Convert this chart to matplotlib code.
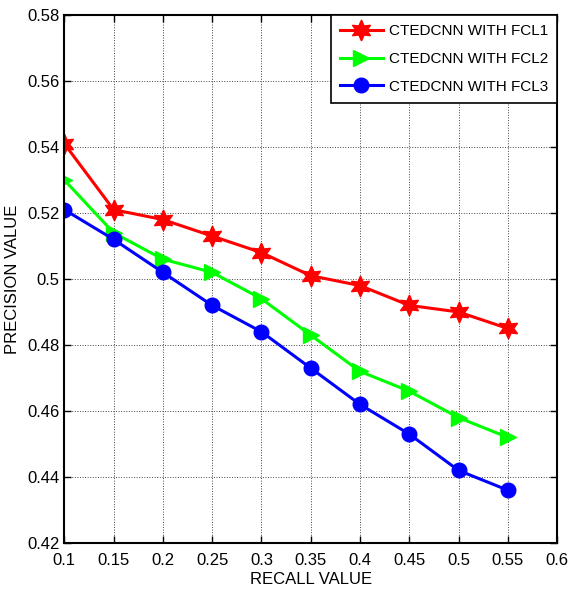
import matplotlib
matplotlib.use('Agg')
import matplotlib.pyplot as plt

plt.rcParams['font.family'] = ['Liberation Sans', 'DejaVu Sans']

# recall values on x
recall = [0.1, 0.15, 0.2, 0.25, 0.3, 0.35, 0.4, 0.45, 0.5, 0.55]

# precision values
fcl1 = [0.541, 0.521, 0.518, 0.513, 0.508, 0.501, 0.498, 0.492, 0.490, 0.485]
fcl2 = [0.530, 0.514, 0.506, 0.502, 0.494, 0.483, 0.472, 0.466, 0.458, 0.452]
fcl3 = [0.521, 0.512, 0.502, 0.492, 0.484, 0.473, 0.462, 0.453, 0.442, 0.436]

labels = ['CTEDCNN WITH FCL1', 'CTEDCNN WITH FCL2', 'CTEDCNN WITH FCL3']
xticks = [0.1, 0.15, 0.2, 0.25, 0.3, 0.35, 0.4, 0.45, 0.5, 0.55, 0.6]
xticklabels = ['0.1', '0.15', '0.2', '0.25', '0.3', '0.35', '0.4', '0.45', '0.5', '0.55', '0.6']
yticks = [0.42, 0.44, 0.46, 0.48, 0.5, 0.52, 0.54, 0.56, 0.58]
yticklabels = ['0.42', '0.44', '0.46', '0.48', '0.5', '0.52', '0.54', '0.56', '0.58']

fig = plt.figure(figsize=(5.69, 5.98), dpi=100)
ax = fig.add_axes([0.113, 0.092, 0.866, 0.883])

# six-point star like the matlab hexagram
ax.plot(recall, fcl1, color='#ff0000', marker=(6, 1, 0), markersize=15, linewidth=2.2, label=labels[0])
ax.plot(recall, fcl2, color='#00ff00', marker='>', markersize=12, linewidth=2.2, label=labels[1])
ax.plot(recall, fcl3, color='#0000ff', marker='o', markersize=10.5, linewidth=2.2, label=labels[2])

ax.set_xlim(0.1, 0.6)
ax.set_ylim(0.42, 0.58)
ax.set_xticks(xticks)
ax.set_xticklabels(xticklabels)
ax.set_yticks(yticks)
ax.set_yticklabels(yticklabels)
ax.tick_params(direction='in', top=True, right=True, labelsize=12, length=5, width=1)
ax.tick_params(axis='x', pad=7)
ax.grid(True, color='#444444', linestyle=':', linewidth=0.7)

for s in ax.spines.values():
    s.set_linewidth(1.5)

ax.set_xlabel('RECALL VALUE', fontsize=12, labelpad=3)
ax.set_ylabel('PRECISION VALUE', fontsize=12, labelpad=5)

leg = ax.legend(loc='upper right', fontsize=11, fancybox=False, framealpha=1,
                edgecolor='black', borderaxespad=0, handlelength=2.8, borderpad=0.6,
                labelspacing=0.9, handletextpad=0.4)
leg.get_frame().set_linewidth(1.2)

fig.savefig('out.png', dpi=100)
